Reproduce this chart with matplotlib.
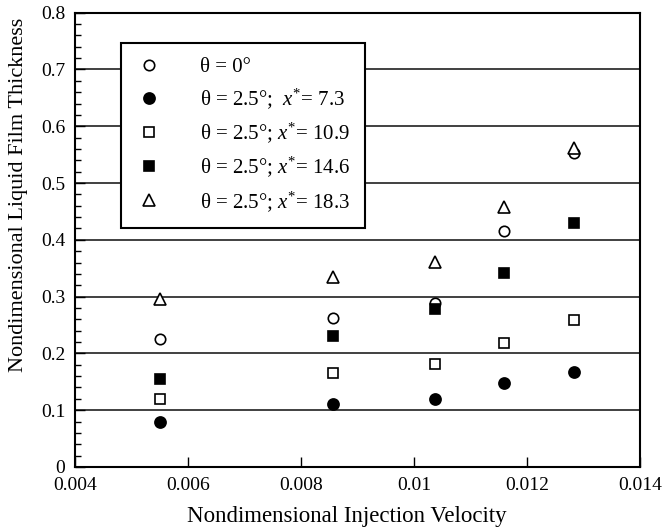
import matplotlib
matplotlib.use("Agg")
import matplotlib.pyplot as plt
from matplotlib.ticker import MultipleLocator, FormatStrFormatter

plt.rcParams['font.family'] = ['Liberation Serif', 'DejaVu Serif']
plt.rcParams['mathtext.fontset'] = 'custom'
plt.rcParams['mathtext.rm'] = 'Liberation Serif'
plt.rcParams['mathtext.it'] = 'Liberation Serif:italic'

# injection velocity (columns)
velocity = [0.0055, 0.00856, 0.01038, 0.01159, 0.01284]

# film thickness per case
theta0 = [0.226, 0.263, 0.288, 0.416, 0.553]
xs_7_3 = [0.079, 0.110, 0.119, 0.148, 0.167]
xs_10_9 = [0.119, 0.165, 0.182, 0.219, 0.259]
xs_14_6 = [0.155, 0.230, 0.279, 0.341, 0.430]
xs_18_3 = [0.296, 0.335, 0.361, 0.457, 0.562]

labels = [
    "θ = 0°",
    "θ = 2.5°;  $\\mathit{x}^{*}$= 7.3",
    "θ = 2.5°; $\\mathit{x}^{*}$= 10.9",
    "θ = 2.5°; $\\mathit{x}^{*}$= 14.6",
    "θ = 2.5°; $\\mathit{x}^{*}$= 18.3",
]

fig = plt.figure(figsize=(6.65, 5.3), dpi=100)
ax = fig.add_axes([0.113, 0.119, 0.849, 0.857])

series = [
    (theta0, 'o', 'white', 7.5),
    (xs_7_3, 'o', 'black', 8),
    (xs_10_9, 's', 'white', 7),
    (xs_14_6, 's', 'black', 7),
    (xs_18_3, '^', 'white', 8),
]
for (vals, mk, fc, ms), lab in zip(series, labels):
    ax.plot(velocity, vals, linestyle='none', marker=mk, markersize=ms,
            markerfacecolor=fc, markeredgecolor='black', markeredgewidth=1.2,
            label=lab, zorder=3)

ax.set_xlim(0.004, 0.014)
ax.set_ylim(0, 0.8)
ax.xaxis.set_major_locator(MultipleLocator(0.002))
ax.yaxis.set_major_locator(MultipleLocator(0.1))
ax.yaxis.set_minor_locator(MultipleLocator(0.02))
ax.xaxis.set_major_formatter(FormatStrFormatter('%g'))
ax.yaxis.set_major_formatter(FormatStrFormatter('%g'))
ax.tick_params(direction='in', labelsize=14, length=7, width=1, pad=7.5)
ax.tick_params(axis='y', pad=7)
ax.tick_params(which='minor', direction='in', length=4, width=1)
ax.yaxis.grid(True, color='0.25', linewidth=1.4)
ax.set_axisbelow(True)
for sp in ax.spines.values():
    sp.set_linewidth(1.5)

ax.set_xlabel("Nondimensional Injection Velocity", fontsize=16.5)
ax.set_ylabel("Nondimensional Liquid Film Thickness", fontsize=16)
ax.xaxis.set_label_coords(0.482, -0.087)
ax.yaxis.set_label_coords(-0.084, 0.60)

leg = ax.legend(loc='upper left', bbox_to_anchor=(0.081, 0.934), borderaxespad=0,
                fontsize=15, frameon=True, fancybox=False, edgecolor='black',
                framealpha=1, handlelength=1.3, handletextpad=1.8,
                labelspacing=0.45, borderpad=0.7, numpoints=1)
leg.get_frame().set_linewidth(1.5)
leg.set_zorder(5)

fig.savefig("out.png", dpi=100)
